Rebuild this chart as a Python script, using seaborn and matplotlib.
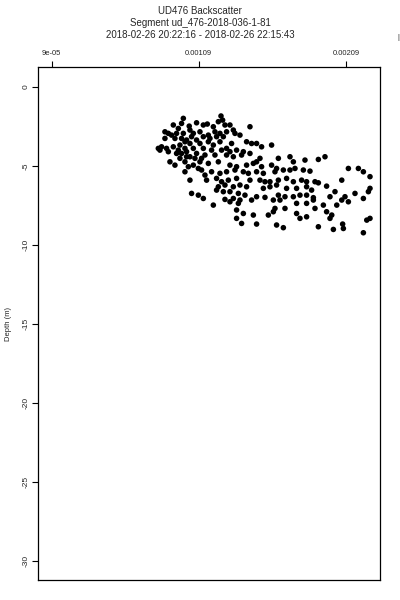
import numpy as np
import pandas as pd
import matplotlib
matplotlib.use("Agg")
import matplotlib.pyplot as plt
import seaborn as sns

# backscatter / depth pairs, grouped by depth band
backscatter = [
    # -1.8 .. -3.2 m
    0.001241, 0.001252, 0.001223, 0.001148, 0.001121, 0.001075, 0.000985, 0.000973,
    0.000917, 0.001025, 0.001189, 0.001268, 0.001302, 0.001438, 0.001325, 0.001279,
    0.001234, 0.001200, 0.000951, 0.000860, 0.000883, 0.000905, 0.000939, 0.000985,
    0.001030, 0.001053, 0.001098, 0.001155, 0.001211, 0.001257, 0.001370, 0.001336,
    # -3.2 .. -4.2 m
    0.001415, 0.001449, 0.001483, 0.001517, 0.001585, 0.000860, 0.000928, 0.000973,
    0.001007, 0.001075, 0.001030, 0.001098, 0.001155, 0.001189, 0.001234, 0.001313,
    0.001279, 0.001347, 0.001393, 0.000837, 0.000871, 0.000917, 0.000962, 0.000996,
    0.001053, 0.001121, 0.001177, 0.001245, 0.001302, 0.000815, 0.000826, 0.000996,
    0.001041, 0.001121, 0.001166, 0.000951,
    # -4.1 .. -5.2 m
    0.000883, 0.000939, 0.001007, 0.001075, 0.001030, 0.001132, 0.001200, 0.001279,
    0.001325, 0.001381, 0.001438, 0.001506, 0.001483, 0.001631, 0.001710, 0.001733,
    0.001812, 0.001903, 0.001948, 0.000894, 0.000928, 0.000996, 0.001019, 0.001098,
    0.001155, 0.001223, 0.001302, 0.001347, 0.001415, 0.001461, 0.001517, 0.001585,
    0.001619, 0.000973, 0.001064, 0.001109, 0.001007, 0.000962, 0.001053, 0.001087,
    # -5.2 .. -6.1 m
    0.000996, 0.001109, 0.001132, 0.001177, 0.001234, 0.001279, 0.001336, 0.001393,
    0.001427, 0.001483, 0.001529, 0.001608, 0.001665, 0.001710, 0.001744, 0.001801,
    0.001846, 0.002107, 0.002175, 0.002209, 0.001030, 0.001143, 0.001211, 0.001245,
    0.001291, 0.001347, 0.001438, 0.001506, 0.001540, 0.001574, 0.001631, 0.001687,
    0.001733, 0.001789, 0.001823, 0.001880, 0.001903, 0.002062, 0.002254,
    # -6.2 .. -7.1 m
    0.001223, 0.001268, 0.001325, 0.001370, 0.001415, 0.001529, 0.001574, 0.001619,
    0.001687, 0.001755, 0.001823, 0.001857, 0.001959, 0.002016, 0.002254, 0.002243,
    0.001041, 0.001087, 0.001121, 0.001211, 0.001257, 0.001302, 0.001359, 0.001404,
    0.001483, 0.001540, 0.001631, 0.001676, 0.001733, 0.001778, 0.001823, 0.001869,
    0.001982, 0.002084, 0.002152, 0.002209,
    # -7.1 .. -8.5 m
    0.001268, 0.001325, 0.001370, 0.001449, 0.001597, 0.001642, 0.001189, 0.001302,
    0.001359, 0.001608, 0.001676, 0.001755, 0.001823, 0.001869, 0.001937, 0.002028,
    0.002062, 0.002107, 0.001347, 0.001393, 0.001461, 0.001563, 0.001597, 0.001755,
    0.001778, 0.001823, 0.001880, 0.001959, 0.001982, 0.001994, 0.002254, 0.002232,
    # -8.3 .. -9.3 m
    0.001347, 0.001381, 0.001483, 0.001619, 0.001665, 0.001903, 0.002005, 0.002068,
    0.002073, 0.002209,
]

depth = [
    -1.85, -2.11, -2.21, -2.36, -2.42, -2.28, -2.00, -2.32,
    -2.42, -2.49, -2.53, -2.42, -2.42, -2.53, -2.74, -2.85,
    -2.95, -2.85, -2.64, -2.85, -2.95, -3.06, -2.95, -2.95,
    -2.74, -2.95, -2.85, -3.06, -3.16, -3.16, -3.06, -2.95,
    -3.48, -3.59, -3.59, -3.80, -3.69, -3.27, -3.27, -3.27,
    -3.37, -3.37, -3.59, -3.59, -3.48, -3.69, -3.48, -3.59,
    -3.90, -4.01, -4.11, -3.80, -3.90, -3.80, -3.69, -3.90,
    -3.90, -3.90, -4.01, -4.01, -4.11, -3.90, -4.01, -3.48,
    -3.16, -3.16, -3.27, -4.01,
    -4.11, -4.22, -4.11, -4.22, -4.43, -4.32, -4.32, -4.32,
    -4.43, -4.32, -4.22, -4.53, -4.75, -4.53, -4.43, -4.75,
    -4.64, -4.60, -4.43, -4.75, -4.96, -4.75, -5.06, -4.75,
    -4.85, -4.75, -4.96, -5.06, -4.96, -4.85, -5.06, -4.96,
    -5.17, -4.22, -4.53, -4.53, -4.43, -4.53, -4.96, -5.17,
    -5.38, -5.27, -5.59, -5.38, -5.48, -5.38, -5.27, -5.38,
    -5.48, -5.38, -5.48, -5.38, -5.27, -5.27, -5.17, -5.27,
    -5.34, -5.17, -5.17, -5.38, -5.91, -5.91, -5.80, -6.01,
    -5.91, -5.80, -5.91, -5.91, -6.01, -6.01, -5.91, -5.80,
    -6.01, -5.91, -6.01, -6.01, -6.08, -5.91, -5.69,
    -6.33, -6.22, -6.33, -6.22, -6.33, -6.43, -6.33, -6.22,
    -6.43, -6.43, -6.33, -6.54, -6.29, -6.64, -6.43, -6.64,
    -6.75, -6.86, -7.07, -6.54, -6.64, -6.64, -6.75, -6.86,
    -6.96, -7.00, -6.86, -6.96, -6.96, -6.86, -6.86, -7.02,
    -6.96, -6.96, -6.75, -7.07,
    -7.13, -7.07, -7.17, -7.17, -7.17, -7.17, -7.49, -7.28,
    -7.38, -7.70, -7.70, -7.38, -7.38, -7.17, -7.49, -7.49,
    -7.17, -7.28, -7.80, -8.02, -8.12, -8.12, -7.91, -8.02,
    -8.33, -8.23, -7.70, -7.91, -8.33, -8.12, -8.33, -8.44,
    -8.33, -8.65, -8.69, -8.75, -8.92, -8.86, -9.03, -8.69,
    -8.97, -9.24,
]

x_ticks = [9e-05, 0.00109, 0.00209]
x_labels = ["9e-05", "0.00109", "0.00209"]
y_ticks = [0, -5, -10, -15, -20, -25, -30]
title_lines = [
    "UD476 Backscatter",
    "Segment ud_476-2018-036-1-81",
    "2018-02-26 20:22:16 - 2018-02-26 22:15:43",
]

df = pd.DataFrame({"backscatter": backscatter, "depth": depth})

sns.set_style("ticks")
plt.rcParams["font.family"] = ["Liberation Sans", "DejaVu Sans"]

fig = plt.figure(figsize=(4, 6), dpi=100)
ax = fig.add_axes([0.095, 0.0333, 0.855, 0.855])

sns.scatterplot(data=df, x="backscatter", y="depth", ax=ax,
                color="black", s=16, marker="o", edgecolor="none", linewidth=0)

ax.set_xlim(-3e-06, 0.002322)
ax.set_ylim(-31.22, 1.25)

ax.xaxis.tick_top()
ax.set_xticks(x_ticks)
ax.set_xticklabels(x_labels, fontsize=5.5)
ax.set_yticks(y_ticks)
ax.set_yticklabels([str(v) for v in y_ticks], fontsize=6, rotation=90, va="center")
ax.tick_params(axis="x", length=4, width=0.8, color="black", pad=3)
ax.tick_params(axis="y", length=4, width=0.8, color="black", pad=2)
ax.set_xlabel("")
ax.set_ylabel("Depth (m)", fontsize=5.5, labelpad=8)

for side in ["left", "right", "top", "bottom"]:
    ax.spines[side].set_visible(True)
    ax.spines[side].set_linewidth(0.9)
    ax.spines[side].set_color("black")

for i, line in enumerate(title_lines):
    fig.text(0.5, 0.982 - i * 0.02, line, ha="center", va="center", fontsize=7)

fig.text(0.995, 0.937, "|", ha="center", va="center", fontsize=5)

fig.savefig("out.png", dpi=100)
